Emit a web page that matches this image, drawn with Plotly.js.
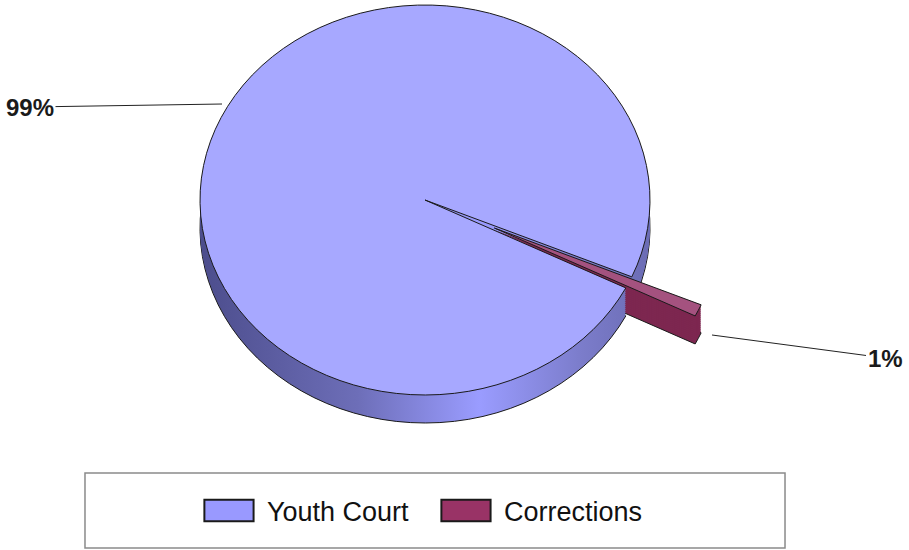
<!DOCTYPE html>
<html>
<head>
<meta charset="utf-8">
<script src="https://cdn.plot.ly/plotly-3.0.1.min.js"></script>
<style>html,body{margin:0;padding:0;background:#fff;}#chart{width:909px;height:550px;}</style>
</head>
<body>
<div id="chart"></div>
<svg width="0" height="0" style="position:absolute">
  <defs>
    <linearGradient id="sideGrad" x1="0" y1="0" x2="1" y2="0">
      <stop offset="0" stop-color="#4c4d8c"/>
      <stop offset="0.35" stop-color="#6d6eb8"/>
      <stop offset="0.62" stop-color="#9a9cff"/>
      <stop offset="0.85" stop-color="#7b7cca"/>
      <stop offset="1" stop-color="#6b6cb4"/>
    </linearGradient>
  </defs>
</svg>
<script>
// ---- data ----
const categories = ["Youth Court", "Corrections"];
const values = [99, 1];
const topColors = ["#a7a8ff", "#a4527f"];
const sideColors = ["#7071bf", "#7d2750"];
const legendColors = ["#9999ff", "#993366"];
const pulls = [0, 0.34];

const total = values.reduce((a, b) => a + b, 0);
const pctLabels = values.map(v => Math.round(v / total * 100) + "%");

const rotation = 116.8;
const pieDomain = {x: [0.286, 0.649], y: [0.3, 0.9]};

// target ellipse for the pie's top face (px) and extrusion depth
const faceCx = 425, faceCy = 200, faceRx = 225, faceRy = 195, depth = 28, step = 2;

const layerDepths = [];
for (let d = depth; d > 0; d -= step) layerDepths.push(d);

const traces = layerDepths.map((d, k) => ({
  type: "pie", labels: categories, values: values, sort: false,
  direction: "clockwise", rotation: rotation, pull: pulls,
  domain: pieDomain, textinfo: "none", hoverinfo: "skip", showlegend: false,
  marker: {colors: sideColors, line: {color: "#1a1a1a", width: k === 0 ? 1 : 0}}
}));
traces.push({
  type: "pie", labels: categories, values: values, sort: false,
  direction: "clockwise", rotation: rotation, pull: pulls,
  domain: pieDomain, textinfo: "none", hoverinfo: "label+percent",
  marker: {colors: topColors, line: {color: "#1a1a1a", width: 1}}
});

const labelFont = {family: "Liberation Sans, Arial, sans-serif", size: 24, color: "#1a1a1a"};
const layout = {
  width: 909, height: 550,
  margin: {l: 0, r: 0, t: 0, b: 0},
  paper_bgcolor: "#fff",
  showlegend: true,
  legend: {
    orientation: "h", x: 0.2145, xanchor: "left", y: 0.071, yanchor: "middle",
    font: {family: "Liberation Sans, Arial, sans-serif", size: 27, color: "#111"},
    bgcolor: "rgba(0,0,0,0)", itemwidth: 62, entrywidth: 160
  },
  shapes: [{
    type: "rect", xref: "paper", yref: "paper",
    x0: 0.0935, x1: 0.8636, y0: 0.0036, y1: 0.14,
    line: {color: "#8a8a8a", width: 1.5}, fillcolor: "rgba(0,0,0,0)"
  }],
  annotations: [
    {xref: "paper", yref: "paper", x: 222 / 909, y: 1 - 104 / 550, ax: -192, ay: 3,
     axref: "pixel", ayref: "pixel",
     text: "<b>" + pctLabels[0] + "</b>", showarrow: true, arrowhead: 0, arrowwidth: 1,
     arrowcolor: "#222", font: labelFont, standoff: 0},
    {xref: "paper", yref: "paper", x: 712 / 909, y: 1 - 335 / 550, ax: 173, ay: 23,
     axref: "pixel", ayref: "pixel",
     text: "<b>" + pctLabels[1] + "</b>", showarrow: true, arrowhead: 0, arrowwidth: 1,
     arrowcolor: "#222", font: labelFont, standoff: 0}
  ]
};

Plotly.newPlot("chart", traces, layout, {displayModeBar: false, staticPlot: true}).then(gd => {
  const groups = gd.querySelectorAll(".pielayer .trace");
  groups.forEach((g, i) => {
    const cd0 = gd.calcdata[i][0];
    const sx = faceRx / cd0.r, sy = faceRy / cd0.r;
    const ty = faceCy + (i < layerDepths.length ? layerDepths[i] : 0);
    g.setAttribute("transform",
      "translate(" + faceCx + "," + ty + ") scale(" + sx + "," + sy + ") translate(" + (-cd0.cx) + "," + (-cd0.cy) + ")");
    g.querySelectorAll("path").forEach(p => p.setAttribute("vector-effect", "non-scaling-stroke"));
    if (i < layerDepths.length) {
      const sp = g.querySelectorAll("path.surface");
      if (sp[0]) sp[0].style.fill = "url(#sideGrad)";
    }
  });
  gd.querySelectorAll(".legend .legendpoints path").forEach((p, j) => {
    p.setAttribute("transform", "translate(34,0) scale(4.1,1.8)");
    p.setAttribute("vector-effect", "non-scaling-stroke");
    p.style.stroke = "#1a1a1a";
    p.style.strokeWidth = "2px";
    if (legendColors[j]) p.style.fill = legendColors[j];
  });
});
</script>
</body>
</html>
